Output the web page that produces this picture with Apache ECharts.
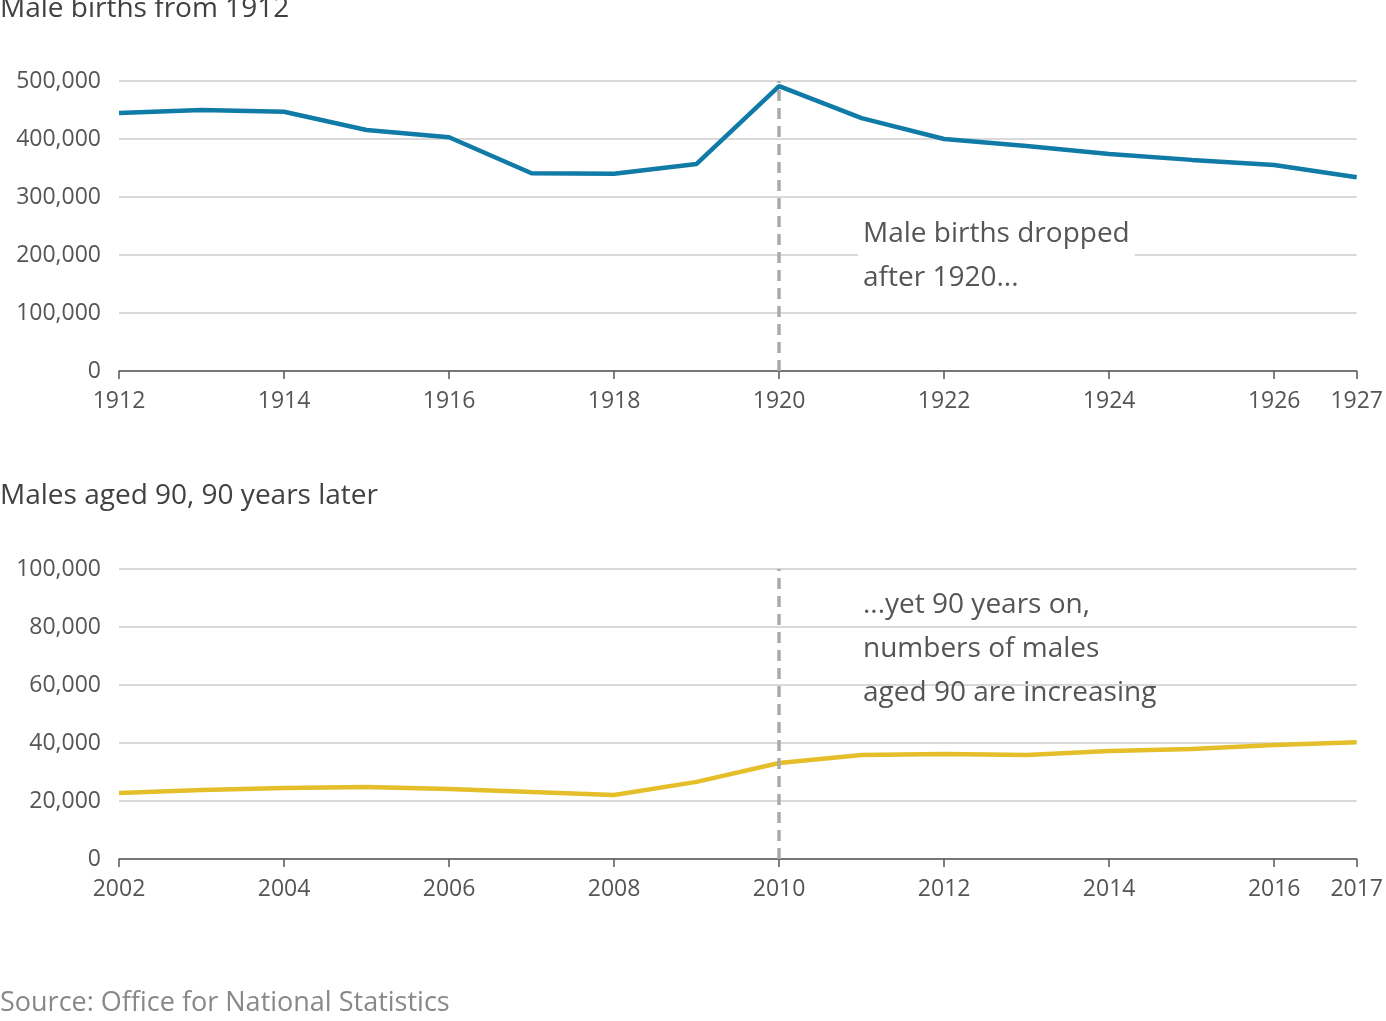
<!DOCTYPE html>
<html><head><meta charset="utf-8">
<script src="https://cdn.jsdelivr.net/npm/echarts@6/dist/echarts.min.js"></script>
<style>html,body{margin:0;background:#fff}#c{width:1386px;height:1021px}</style>
</head><body><div id="c"></div>
<script>
const yearsTop = ['1912','1913','1914','1915','1916','1917','1918','1919','1920','1921','1922','1923','1924','1925','1926','1927'];
const birthsTop = [445000,450000,447000,415500,403000,341000,340000,357000,491000,436000,400000,388000,374000,364000,355000,334000];
const yearsBottom = ['2002','2003','2004','2005','2006','2007','2008','2009','2010','2011','2012','2013','2014','2015','2016','2017'];
const aged90 = [22800,23800,24500,24800,24100,23100,22100,26600,33100,35900,36200,35900,37200,37900,39300,40300];
const F = 'Open Sans';
const showIdx = (i)=> i%2===0 || i===15;
function xAxis(idx, cats){
  return {type:'category', gridIndex:idx, data:cats, boundaryGap:false,
    axisLine:{lineStyle:{color:'#555',width:1.5}},
    axisTick:{interval:showIdx, length:8, lineStyle:{color:'#555',width:1.5}},
    axisLabel:{interval:showIdx, color:'#555', fontSize:23, fontFamily:F, margin:19}};
}
function yAxis(idx, max, interval){
  return {type:'value', gridIndex:idx, min:0, max, interval,
    axisLine:{show:false}, axisTick:{show:false},
    splitLine:{lineStyle:{color:'#ccc',width:1.5}},
    axisLabel:{color:'#555', fontSize:23, fontFamily:F, margin:18,
      formatter:v=>v.toLocaleString('en-US')}};
}
const ml = (x)=>({symbol:'none', silent:true, label:{show:false},
  lineStyle:{color:'#aaa',type:[11,7],width:3.5}, data:[{xAxis:x}]});
const chart = echarts.init(document.getElementById('c'));
chart.setOption({
  animation:false,
  grid:[{left:119,right:27,top:81,height:290},{left:119,right:27,top:569,height:290}],
  xAxis:[xAxis(0,yearsTop), xAxis(1,yearsBottom)],
  yAxis:[yAxis(0,500000,100000), yAxis(1,100000,20000)],
  series:[
    {type:'line', xAxisIndex:0, yAxisIndex:0, data:birthsTop, symbol:'none', z:3,
     lineStyle:{color:'#0f7ba6',width:4.5}, markLine:ml('1920')},
    {type:'line', xAxisIndex:1, yAxisIndex:1, data:aged90, symbol:'none', z:3,
     lineStyle:{color:'#e4bf2a',width:4.5}, markLine:ml('2010')}
  ],
  graphic:[
    {type:'text', left:0, top:-5, style:{text:'Male births from 1912', fill:'#414042', font:'28px "Open Sans"'}},
    {type:'text', left:0, top:482, style:{text:'Males aged 90, 90 years later', fill:'#414042', font:'28px "Open Sans"'}},
    {type:'text', left:0, top:990, style:{text:'Source: Office for National Statistics', fill:'#888', font:'27px "Open Sans"'}},
    {type:'text', left:858, top:212, z:10, style:{text:'Male births dropped\nafter 1920...', fill:'#555', font:'28px "Open Sans"', lineHeight:44, backgroundColor:'#fff', padding:[0,5]}},
    {type:'text', left:863, top:583, z:10, style:{text:'...yet 90 years on,\nnumbers of males\naged 90 are increasing', fill:'#555', font:'28px "Open Sans"', lineHeight:44}}
  ]
});
</script></body></html>
